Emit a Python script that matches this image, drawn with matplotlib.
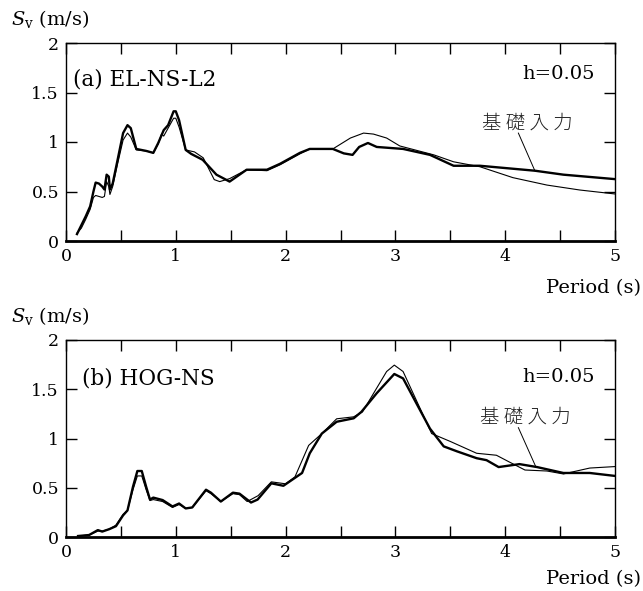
import matplotlib
matplotlib.use("Agg")
import matplotlib.pyplot as plt
from matplotlib.ticker import MultipleLocator

plt.rcParams['font.family'] = ['DejaVu Serif']
plt.rcParams['mathtext.fontset'] = 'dejavuserif'

# ---- data: panel (a) EL-NS-L2 ----
a_thick_T = [0.10, 0.14, 0.18, 0.22, 0.25, 0.27, 0.30, 0.33, 0.35, 0.37, 0.39, 0.40, 0.425, 0.47,
             0.52, 0.56, 0.59, 0.64, 0.73, 0.795, 0.84, 0.89, 0.93, 0.98, 1.00, 1.03, 1.09, 1.14,
             1.245, 1.37, 1.49, 1.645, 1.83, 1.95, 2.13, 2.22, 2.43, 2.53, 2.61, 2.67, 2.75, 2.83,
             3.07, 3.315, 3.53, 3.77, 4.27, 4.53, 5.0]
a_thick_S = [0.07, 0.16, 0.25, 0.35, 0.50, 0.59, 0.58, 0.55, 0.52, 0.67, 0.65, 0.52, 0.58, 0.82,
             1.09, 1.17, 1.14, 0.93, 0.91, 0.89, 0.99, 1.12, 1.17, 1.31, 1.31, 1.22, 0.92, 0.88,
             0.82, 0.67, 0.60, 0.72, 0.72, 0.78, 0.89, 0.93, 0.93, 0.885, 0.87, 0.95, 0.99, 0.95,
             0.93, 0.87, 0.76, 0.76, 0.71, 0.67, 0.625]
a_thin_T = [0.10, 0.14, 0.18, 0.22, 0.25, 0.27, 0.30, 0.33, 0.35, 0.37, 0.39, 0.40, 0.425, 0.47,
            0.52, 0.56, 0.59, 0.64, 0.73, 0.795, 0.84, 0.87, 0.89, 0.91, 0.95, 0.98, 1.00, 1.03,
            1.09, 1.17, 1.25, 1.35, 1.40, 1.49, 1.645, 1.83, 1.95, 2.13, 2.22, 2.43, 2.59, 2.71,
            2.80, 2.92, 3.04, 3.35, 3.53, 3.77, 4.07, 4.38, 4.68, 5.0]
a_thin_S = [0.08, 0.13, 0.22, 0.32, 0.44, 0.46, 0.45, 0.44, 0.45, 0.60, 0.55, 0.47, 0.55, 0.78,
            1.02, 1.09, 1.05, 0.92, 0.91, 0.89, 0.98, 1.08, 1.06, 1.10, 1.18, 1.24, 1.24, 1.15,
            0.92, 0.90, 0.84, 0.62, 0.60, 0.63, 0.72, 0.71, 0.77, 0.88, 0.93, 0.93, 1.04, 1.09,
            1.08, 1.04, 0.96, 0.87, 0.80, 0.75, 0.64, 0.565, 0.515, 0.475]

# ---- data: panel (b) HOG-NS ----
b_thick_T = [0.11, 0.21, 0.29, 0.33, 0.395, 0.455, 0.52, 0.56, 0.61, 0.65, 0.69, 0.73, 0.765, 0.795,
             0.88, 0.97, 1.03, 1.09, 1.15, 1.275, 1.32, 1.41, 1.52, 1.58, 1.685, 1.745, 1.87, 1.98,
             2.15, 2.22, 2.33, 2.465, 2.62, 2.69, 2.83, 2.99, 3.07, 3.19, 3.315, 3.44, 3.56, 3.74,
             3.83, 3.94, 4.13, 4.29, 4.53, 4.77, 5.0]
b_thick_S = [0.01, 0.02, 0.07, 0.055, 0.08, 0.11, 0.22, 0.27, 0.51, 0.67, 0.67, 0.51, 0.38, 0.40,
             0.375, 0.31, 0.34, 0.29, 0.30, 0.48, 0.45, 0.36, 0.45, 0.44, 0.35, 0.38, 0.545, 0.52,
             0.65, 0.85, 1.05, 1.17, 1.205, 1.27, 1.46, 1.655, 1.61, 1.36, 1.10, 0.92, 0.87, 0.80,
             0.78, 0.71, 0.74, 0.71, 0.65, 0.65, 0.62]
b_thin_T = [0.11, 0.21, 0.29, 0.33, 0.395, 0.455, 0.52, 0.56, 0.61, 0.65, 0.69, 0.73, 0.765, 0.795,
            0.88, 0.97, 1.03, 1.09, 1.15, 1.275, 1.32, 1.41, 1.52, 1.58, 1.65, 1.75, 1.87, 2.0,
            2.085, 2.21, 2.33, 2.465, 2.62, 2.70, 2.92, 2.99, 3.07, 3.19, 3.33, 3.50, 3.74, 3.92,
            4.04, 4.18, 4.38, 4.53, 4.77, 5.0]
b_thin_S = [0.01, 0.02, 0.06, 0.06, 0.08, 0.12, 0.23, 0.27, 0.48, 0.62, 0.62, 0.48, 0.37, 0.38,
            0.36, 0.30, 0.33, 0.29, 0.30, 0.47, 0.44, 0.36, 0.44, 0.43, 0.36, 0.42, 0.56, 0.54,
            0.61, 0.93, 1.05, 1.20, 1.22, 1.27, 1.68, 1.745, 1.68, 1.39, 1.05, 0.97, 0.85, 0.83,
            0.76, 0.68, 0.67, 0.64, 0.70, 0.715]

y_ticks = [0, 0.5, 1, 1.5, 2]
y_ticklabels = ['0', '0.5', '1', '1.5', '2']
x_ticks = [0, 1, 2, 3, 4, 5]
x_ticklabels = ['0', '1', '2', '3', '4', '5']

panels = [
    dict(title="(a) EL-NS-L2", tx=0.065, ty=1.63, hy=1.69,
         thick=(a_thick_T, a_thick_S), thin=(a_thin_T, a_thin_S),
         lab=(4.20, 1.19), lead=((4.12, 1.09), (4.27, 0.71))),
    dict(title="(b) HOG-NS", tx=0.145, ty=1.61, hy=1.62,
         thick=(b_thick_T, b_thick_S), thin=(b_thin_T, b_thin_S),
         lab=(4.18, 1.22), lead=((4.12, 1.11), (4.28, 0.71))),
]

W, H = 643, 591
fig = plt.figure(figsize=(W / 100, H / 100), dpi=100)
rects = [(66, 43, 615, 241), (66, 340, 615, 537)]
period_y = [288, 579]

for p, (l, t, r, b), py in zip(panels, rects, period_y):
    ax = fig.add_axes([l / W, 1 - b / H, (r - l) / W, (b - t) / H])
    ax.plot(*p['thin'], color='black', lw=0.8)
    ax.plot(*p['thick'], color='black', lw=1.7)
    ax.set_xlim(0, 5)
    ax.set_ylim(0, 2)
    ax.set_xticks(x_ticks, x_ticklabels)
    ax.xaxis.set_minor_locator(MultipleLocator(0.5))
    ax.set_yticks(y_ticks, y_ticklabels)
    ax.tick_params(which='both', direction='in', top=True, right=True,
                   length=8, width=1, labelsize=12.5, pad=5)
    for s in ['left', 'right', 'top']:
        ax.spines[s].set_linewidth(1.0)
    ax.spines['bottom'].set_linewidth(2.0)
    ax.text(p['tx'], p['ty'], p['title'], fontsize=15.5, va='center', ha='left')
    ax.text(4.82, p['hy'], "h=0.05", fontsize=14, va='center', ha='right')
    ax.text(p['lab'][0], p['lab'][1], "基 礎 入 力", fontsize=14, va='center', ha='center',
            family=['Noto Sans CJK JP', 'DejaVu Sans'], fontweight='light', color='#222222')
    (x0, y0), (x1, y1) = p['lead']
    ax.plot([x0, x1], [y0, y1], color='black', lw=0.7)
    fig.text(11 / W, 1 - (t - 24) / H, r"$S_{\mathrm{v}}$ (m/s)", fontsize=14,
             ha='left', va='center')
    fig.text(641 / W, 1 - py / H, "Period (s)", fontsize=14,
             ha='right', va='center')

fig.savefig("out.png", dpi=100)
